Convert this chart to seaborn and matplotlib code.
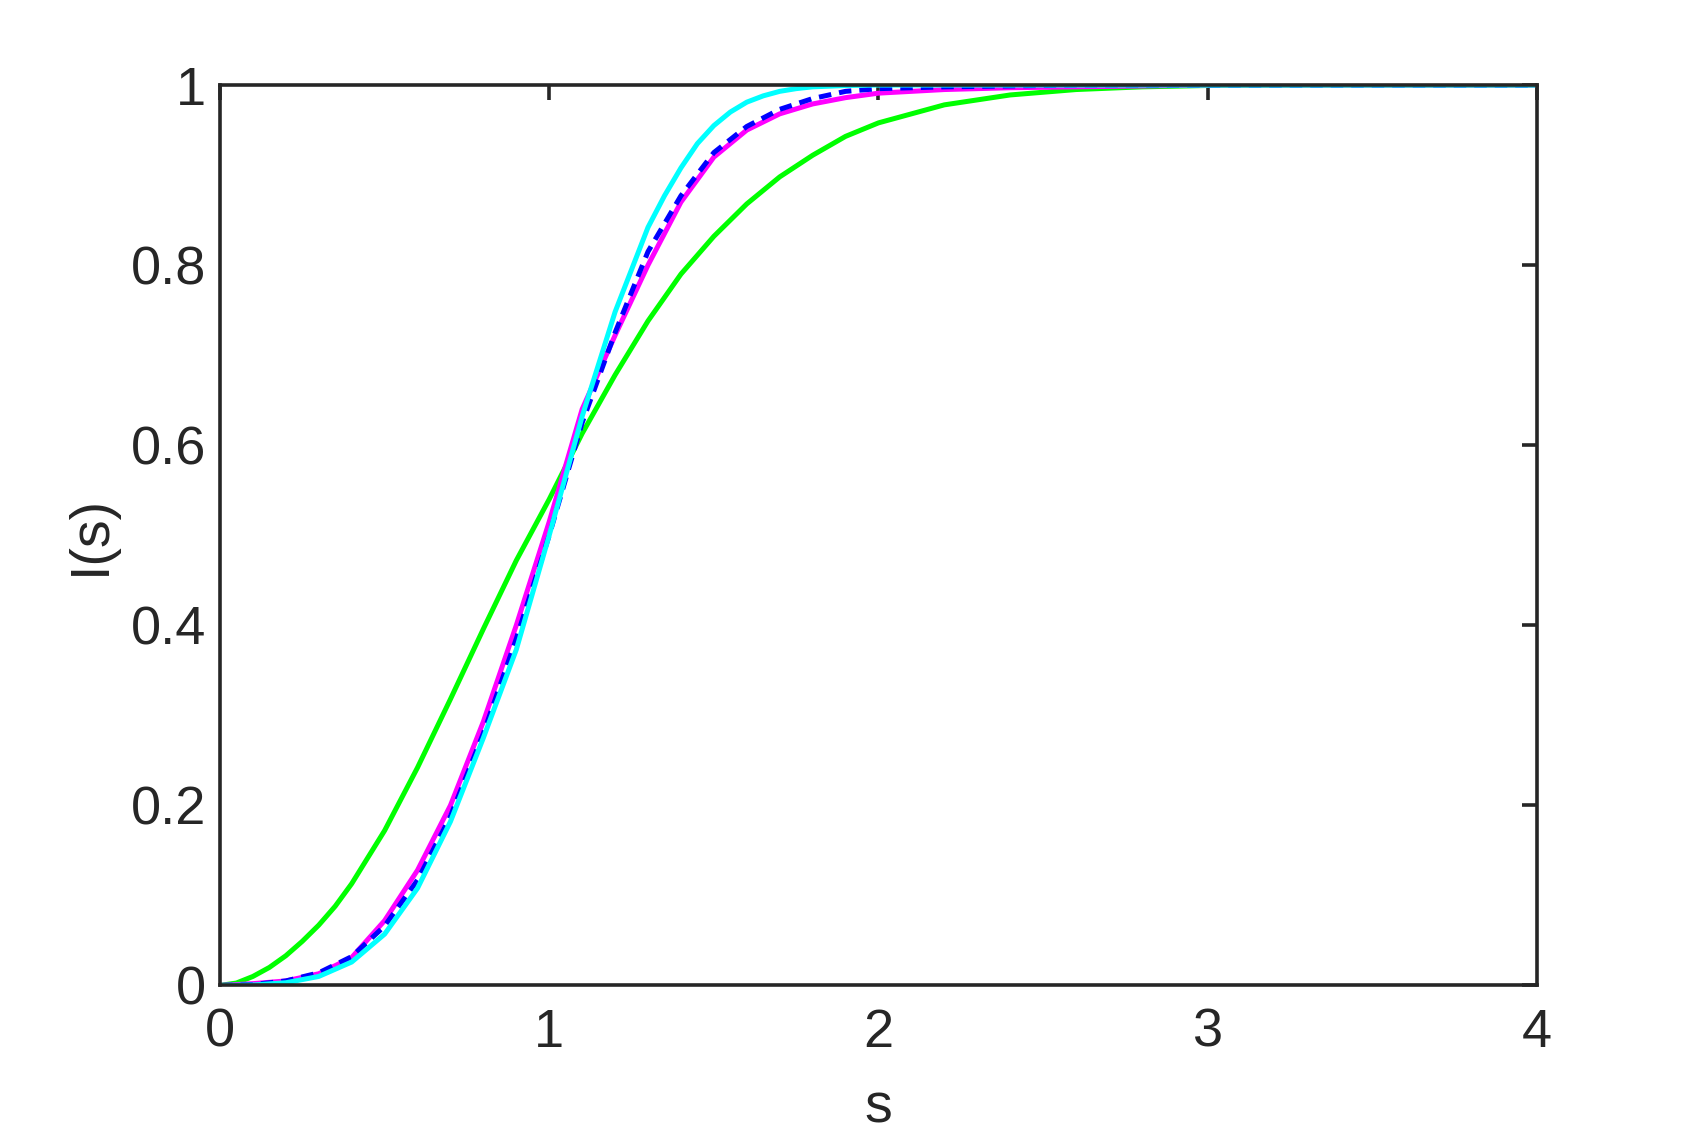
import matplotlib
matplotlib.use("Agg")
import matplotlib.pyplot as plt
import seaborn as sns
import numpy as np

# ---- data ----
s_green = [0.0, 0.05, 0.1, 0.15, 0.2, 0.25, 0.3, 0.35, 0.4, 0.5, 0.6, 0.7, 0.8, 0.9, 1.0, 1.1,
           1.2, 1.3, 1.4, 1.5, 1.6, 1.7, 1.8, 1.9, 2.0, 2.2, 2.4, 2.6, 2.8, 3.0, 3.5, 4.0]
I_green = [0.0, 0.0027, 0.010, 0.020, 0.033, 0.049, 0.067, 0.088, 0.113, 0.172, 0.242,
           0.318, 0.396, 0.472, 0.540, 0.613, 0.678, 0.738, 0.790, 0.832, 0.868, 0.898,
           0.922, 0.943, 0.958, 0.978, 0.989, 0.995, 0.998, 0.9995, 1.0, 1.0]

s_magenta = [0.0, 0.1, 0.2, 0.3, 0.4, 0.5, 0.6, 0.7, 0.8, 0.9, 1.0, 1.1, 1.2, 1.3, 1.4,
             1.5, 1.6, 1.7, 1.8, 1.9, 2.0, 2.2, 2.4, 2.6, 2.8, 3.0, 3.5, 4.0]
I_magenta = [0.0, 0.002, 0.005, 0.013, 0.031, 0.072, 0.128, 0.200, 0.293, 0.400, 0.515,
             0.640, 0.722, 0.800, 0.870, 0.920, 0.950, 0.968, 0.979, 0.986, 0.991,
             0.995, 0.997, 0.998, 0.999, 1.0, 1.0, 1.0]

s_blue = [0.0, 0.1, 0.2, 0.3, 0.4, 0.5, 0.6, 0.7, 0.8, 0.9, 1.0, 1.1, 1.2, 1.3, 1.4,
          1.5, 1.6, 1.7, 1.8, 1.9, 2.0, 2.2, 2.4, 2.6, 3.0, 3.5, 4.0]
I_blue = [0.0, 0.001, 0.005, 0.014, 0.032, 0.066, 0.117, 0.188, 0.280, 0.385, 0.500,
          0.625, 0.725, 0.815, 0.877, 0.925, 0.954, 0.973, 0.985, 0.993, 0.996,
          0.998, 0.999, 1.0, 1.0, 1.0, 1.0]

s_cyan = [0.0, 0.1, 0.2, 0.3, 0.4, 0.5, 0.6, 0.7, 0.8, 0.9, 1.0, 1.1, 1.2, 1.3, 1.35,
          1.4, 1.45, 1.5, 1.55, 1.6, 1.65, 1.7, 1.75, 1.8, 1.9, 2.0, 2.5, 3.0, 3.5, 4.0]
I_cyan = [0.0, 0.0005, 0.003, 0.010, 0.026, 0.057, 0.108, 0.182, 0.275, 0.373, 0.500,
          0.632, 0.748, 0.842, 0.877, 0.908, 0.935, 0.955, 0.970, 0.981, 0.988,
          0.993, 0.996, 0.998, 0.9995, 1.0, 1.0, 1.0, 1.0, 1.0]

x_ticks = [0, 1, 2, 3, 4]
y_ticks = [0, 0.2, 0.4, 0.6, 0.8, 1]
y_tick_labels = ["0", "0.2", "0.4", "0.6", "0.8", "1"]

# ---- style ----
sns.set_theme(style="white")
plt.rcParams["font.family"] = ["Liberation Sans", "DejaVu Sans"]

fig = plt.figure(figsize=(8.5, 5.67), dpi=200)
ax = fig.add_axes([0.1294, 0.131, 0.9041 - 0.1294, 0.925 - 0.131])

lw = 1.8
sns.lineplot(x=s_green, y=I_green, color=(0, 1, 0), lw=lw, ax=ax)
sns.lineplot(x=s_magenta, y=I_magenta, color=(1, 0, 1), lw=lw, ax=ax)
sns.lineplot(x=s_blue, y=I_blue, color=(0, 0, 1), lw=lw, ax=ax, linestyle=(0, (2.5, 1.6)))
sns.lineplot(x=s_cyan, y=I_cyan, color=(0, 1, 1), lw=lw, ax=ax)

ax.set_xlim(0, 4)
ax.set_ylim(0, 1)
ax.set_xticks(x_ticks)
ax.set_xticklabels([str(t) for t in x_ticks])
ax.set_yticks(y_ticks)
ax.set_yticklabels(y_tick_labels)

dark = "#262626"
for sp in ax.spines.values():
    sp.set_visible(True)
    sp.set_color(dark)
    sp.set_linewidth(1.3)

ax.tick_params(direction="in", top=True, right=True, length=5.5, width=1.3,
               color=dark, labelcolor=dark, labelsize=19.5)
ax.tick_params(axis="x", pad=8)
ax.tick_params(axis="y", pad=5)

ax.set_xlabel("s", fontsize=20, color=dark, labelpad=9)
ax.set_ylabel("I(s)", fontsize=20, color=dark, labelpad=5)

fig.savefig("out.png", dpi=200, facecolor="white")
